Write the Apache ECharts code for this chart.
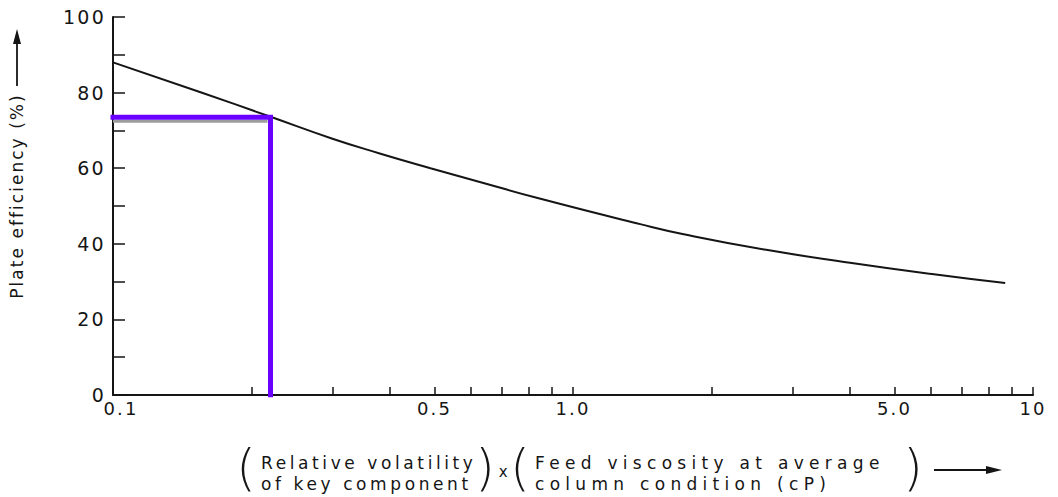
<!DOCTYPE html>
<html>
<head>
<meta charset="utf-8">
<title>Plate efficiency correlation</title>
<script src="https://cdn.jsdelivr.net/npm/echarts@6/dist/echarts.min.js"></script>
<style>
  html, body { margin: 0; padding: 0; background: #fff; }
  #main { width: 1058px; height: 497px; }
  #main text { letter-spacing: 0.12em; }
</style>
</head>
<body>
<div id="main"></div>
<script>
// Correlation curve: plate efficiency (%) against (relative volatility x feed viscosity)
const curveX = [0.1, 0.155, 0.22, 0.30, 0.38, 0.49, 0.63, 0.85, 1.4, 1.73, 2.63, 4.0, 6.03, 8.7];
const curveY = [88.0, 80.1, 73.6, 67.8, 63.9, 60.0, 56.3, 51.9, 45.2, 42.6, 38.4, 35.0, 32.0, 29.6];

// Worked reading: product value and the efficiency it gives
const readX = 0.22;
const readY = 73.5;

// Axis ticks and labels
const xTickValues = [0.1, 0.2, 0.3, 0.4, 0.5, 0.6, 0.7, 0.8, 0.9, 1, 2, 3, 4, 5, 6, 7, 8, 9, 10];
const xLabelValues = [0.1, 0.5, 1, 5, 10];
const xLabelText = ['0.1', '0.5', '1.0', '5.0', '10'];
const yMin = 0, yMax = 100, yStep = 20;

// Axis title lines
const yTitle = 'Plate efficiency (%)';
const xTitleLeft = ['Relative volatility', 'of key component'];
const xTitleRight = ['Feed viscosity at average', 'column condition (cP)'];

const FONT = '"DejaVu Sans", "Liberation Sans", sans-serif';
const INK = '#151515';

const chart = echarts.init(document.getElementById('main'), null, { renderer: 'svg' });

function xLabelFor(v) {
  for (let i = 0; i < xLabelValues.length; i++) {
    if (Math.abs(xLabelValues[i] - v) < 1e-9) {
      // the first label sits a little right of the corner
      return i === 0 ? '{first|' + xLabelText[i] + '}' : xLabelText[i];
    }
  }
  return '';
}

const option = {
  animation: false,
  backgroundColor: '#ffffff',
  grid: { left: 113, right: 25, top: 17, bottom: 102, containLabel: false },
  xAxis: {
    type: 'log',
    logBase: 10,
    min: 0.1,
    max: 10,
    splitLine: { show: false },
    axisLine: { show: true, onZero: false, lineStyle: { color: INK, width: 2 } },
    axisTick: { show: true, inside: true, length: 8, customValues: xTickValues, lineStyle: { color: INK, width: 1.5 } },
    minorTick: { show: false },
    axisLabel: {
      show: true,
      customValues: xLabelValues,
      formatter: xLabelFor,
      color: INK,
      fontFamily: FONT,
      fontSize: 18,
      margin: 4,
      rich: {
        first: { color: INK, fontFamily: FONT, fontSize: 18, padding: [0, 0, 0, 16] }
      }
    }
  },
  yAxis: {
    type: 'value',
    min: yMin,
    max: yMax,
    interval: yStep,
    splitLine: { show: false },
    axisLine: { show: true, onZero: false, lineStyle: { color: INK, width: 2 } },
    axisTick: { show: true, inside: true, length: 12, lineStyle: { color: INK, width: 1.5 } },
    minorTick: { show: true, splitNumber: 2, length: 12, lineStyle: { color: INK, width: 1.5 } },
    minorSplitLine: { show: false },
    axisLabel: { color: INK, fontFamily: FONT, fontSize: 19, margin: 7 }
  },
  series: [
    {
      name: 'efficiency',
      type: 'line',
      data: curveX.map((x, i) => [x, curveY[i]]),
      smooth: 0.5,
      showSymbol: false,
      symbol: 'none',
      lineStyle: { color: INK, width: 2 },
      z: 3
    },
    {
      // faint grey copy beneath the horizontal reading line
      name: 'reading-shadow',
      type: 'line',
      data: [[0.1, readY - 1.05], [readX * 0.985, readY - 1.05]],
      showSymbol: false,
      symbol: 'none',
      lineStyle: { color: '#9c9c9c', width: 3 },
      z: 2
    },
    {
      name: 'reading',
      type: 'line',
      data: [[0.1, readY], [readX, readY], [readX, 0]],
      showSymbol: false,
      symbol: 'none',
      lineStyle: { color: '#6a00ff', width: 5, join: 'miter', cap: 'square' },
      z: 4
    }
  ],
  graphic: [
    // vertical axis title with upward arrow
    {
      type: 'text',
      x: 17, y: 196, rotation: Math.PI / 2,
      style: { text: yTitle, font: '17px ' + FONT, fill: INK, align: 'center', verticalAlign: 'middle' }
    },
    { type: 'line', shape: { x1: 17, y1: 86, x2: 17, y2: 42 }, style: { stroke: INK, lineWidth: 1.8 } },
    { type: 'polygon', shape: { points: [[17, 29], [13, 44], [21, 44]] }, style: { fill: INK } },

    // horizontal axis title: (relative volatility) x (feed viscosity)
    { type: 'text', x: 249, y: 468, style: { text: '(', font: '200 50px ' + FONT, fill: INK, align: 'center', verticalAlign: 'middle' } },
    { type: 'text', x: 261, y: 452, style: { text: xTitleLeft.join('\n'), font: '17px ' + FONT, lineHeight: 21, fill: INK, align: 'left', verticalAlign: 'top' } },
    { type: 'text', x: 488, y: 468, style: { text: ')', font: '200 50px ' + FONT, fill: INK, align: 'center', verticalAlign: 'middle' } },
    { type: 'text', x: 504, y: 472, style: { text: 'x', font: '15px ' + FONT, fill: INK, align: 'center', verticalAlign: 'middle' } },
    { type: 'text', x: 523, y: 468, style: { text: '(', font: '200 50px ' + FONT, fill: INK, align: 'center', verticalAlign: 'middle' } },
    { type: 'text', x: 535, y: 452, style: { text: xTitleRight.join('\n'), font: '17px ' + FONT, lineHeight: 21, fill: INK, align: 'left', verticalAlign: 'top' } },
    { type: 'text', x: 916, y: 468, style: { text: ')', font: '200 50px ' + FONT, fill: INK, align: 'center', verticalAlign: 'middle' } },
    { type: 'line', shape: { x1: 934, y1: 470, x2: 988, y2: 470 }, style: { stroke: INK, lineWidth: 1.8 } },
    { type: 'polygon', shape: { points: [[1002, 470], [986, 466], [986, 474]] }, style: { fill: INK } }
  ]
};

// wider tracking for the typeset title lines
const titleTracking = {};
xTitleLeft.forEach(t => { titleTracking[t] = '3.6px'; });
xTitleRight.forEach(t => { titleTracking[t] = '5.3px'; });

function applyTracking() {
  document.querySelectorAll('#main text').forEach(el => {
    const key = el.textContent;
    if (titleTracking[key]) el.style.letterSpacing = titleTracking[key];
  });
}

chart.on('finished', applyTracking);
chart.setOption(option);
applyTracking();
</script>
</body>
</html>
